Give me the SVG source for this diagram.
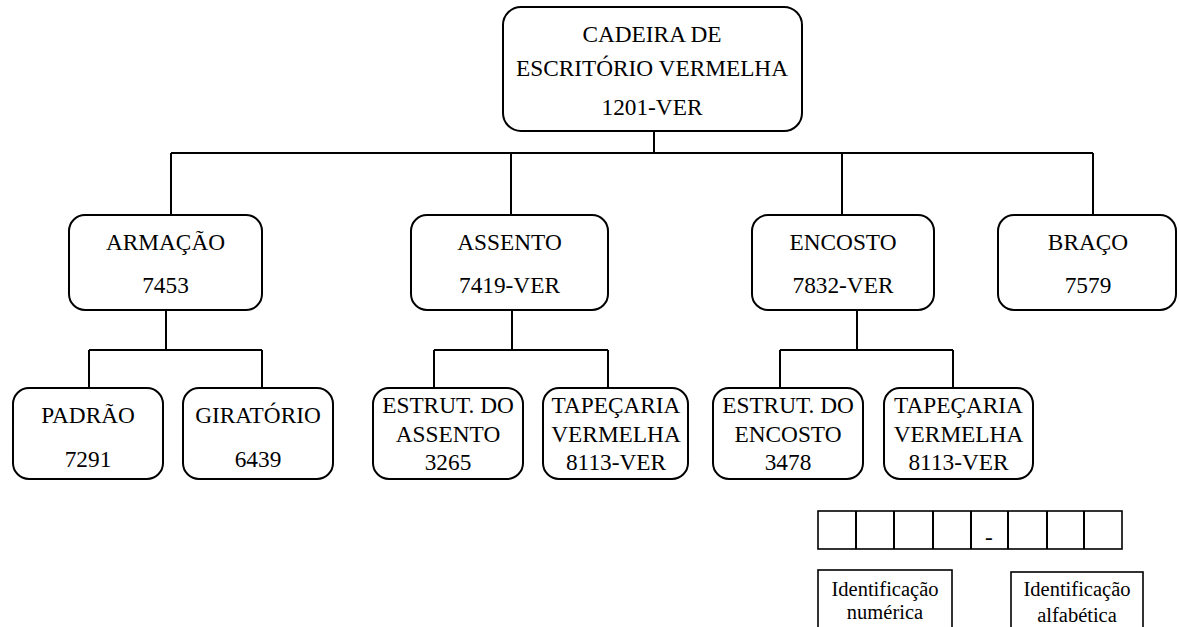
<svg xmlns="http://www.w3.org/2000/svg" width="1179" height="627" viewBox="0 0 1179 627">
<style>
.box{fill:#fff;stroke:#000;stroke-width:2}
.sq{fill:#fff;stroke:#000;stroke-width:1.6}
.ln{fill:none;stroke:#000;stroke-width:2}
text{font-family:"Liberation Serif","Times New Roman",serif;font-size:23.3px;fill:#000;text-anchor:middle}
.sm{font-size:20.5px}
</style>
<rect width="1179" height="627" fill="#fff"/>
<g id="connectors">
<path class="ln" d="M654 131V153M171 153H1093M171 153V215M511 153V215M842 153V215M1093 153V215"/>
<path class="ln" d="M166 310V350M89 350H262M89 350V388M262 350V388"/>
<path class="ln" d="M512 310V350M434 350H608M434 350V388M608 350V388"/>
<path class="ln" d="M857 310V350M780 350H953M780 350V388M953 350V388"/>
</g>
<g id="root"><rect class="box" x="503" y="7" width="299" height="124" rx="18"/>
<text x="652" y="42">CADEIRA DE</text><text x="652" y="76">ESCRITÓRIO VERMELHA</text><text x="652" y="115">1201-VER</text></g>
<g id="armacao"><rect class="box" x="69" y="215" width="193" height="95" rx="16"/>
<text x="165.5" y="250">ARMAÇÃO</text><text x="165.5" y="293">7453</text></g>
<g id="assento"><rect class="box" x="411" y="215" width="197" height="95" rx="16"/>
<text x="509.5" y="250">ASSENTO</text><text x="509.5" y="293">7419-VER</text></g>
<g id="encosto"><rect class="box" x="752" y="215" width="182" height="95" rx="16"/>
<text x="843" y="250">ENCOSTO</text><text x="843" y="293">7832-VER</text></g>
<g id="braco"><rect class="box" x="998" y="215" width="178" height="95" rx="16"/>
<text x="1088" y="250">BRAÇO</text><text x="1088" y="293">7579</text></g>
<g id="padrao"><rect class="box" x="13" y="388" width="150" height="91" rx="16"/>
<text x="88" y="423">PADRÃO</text><text x="88" y="467">7291</text></g>
<g id="giratorio"><rect class="box" x="183" y="388" width="150" height="91" rx="16"/>
<text x="258" y="423">GIRATÓRIO</text><text x="258" y="467">6439</text></g>
<g id="estrut-assento"><rect class="box" x="373" y="388" width="150" height="91" rx="16"/>
<text x="448" y="413">ESTRUT. DO</text><text x="448" y="442">ASSENTO</text><text x="448" y="470">3265</text></g>
<g id="tapecaria-assento"><rect class="box" x="543" y="388" width="145" height="91" rx="16"/>
<text x="616" y="413">TAPEÇARIA</text><text x="616" y="442">VERMELHA</text><text x="616" y="470">8113-VER</text></g>
<g id="estrut-encosto"><rect class="box" x="713" y="388" width="150" height="91" rx="16"/>
<text x="788" y="413">ESTRUT. DO</text><text x="788" y="442">ENCOSTO</text><text x="788" y="470">3478</text></g>
<g id="tapecaria-encosto"><rect class="box" x="884" y="388" width="149" height="91" rx="16"/>
<text x="958.5" y="413">TAPEÇARIA</text><text x="958.5" y="442">VERMELHA</text><text x="958.5" y="470">8113-VER</text></g>
<g id="code-cells">
<rect class="sq" x="818" y="511" width="304" height="38"/>
<path class="ln" stroke-width="1.6" d="M856 511V549M894 511V549M933 511V549M971 511V549M1008 511V549M1047 511V549M1084 511V549"/>
<text x="989" y="545">-</text>
</g>
<g id="label-numerica"><rect class="sq" x="818" y="570" width="134" height="70"/>
<text class="sm" x="885" y="596">Identificação</text><text class="sm" x="885" y="619">numérica</text></g>
<g id="label-alfabetica"><rect class="sq" x="1011" y="572" width="132" height="70"/>
<text class="sm" x="1077" y="596">Identificação</text><text class="sm" x="1077" y="622">alfabética</text></g>
</svg>
